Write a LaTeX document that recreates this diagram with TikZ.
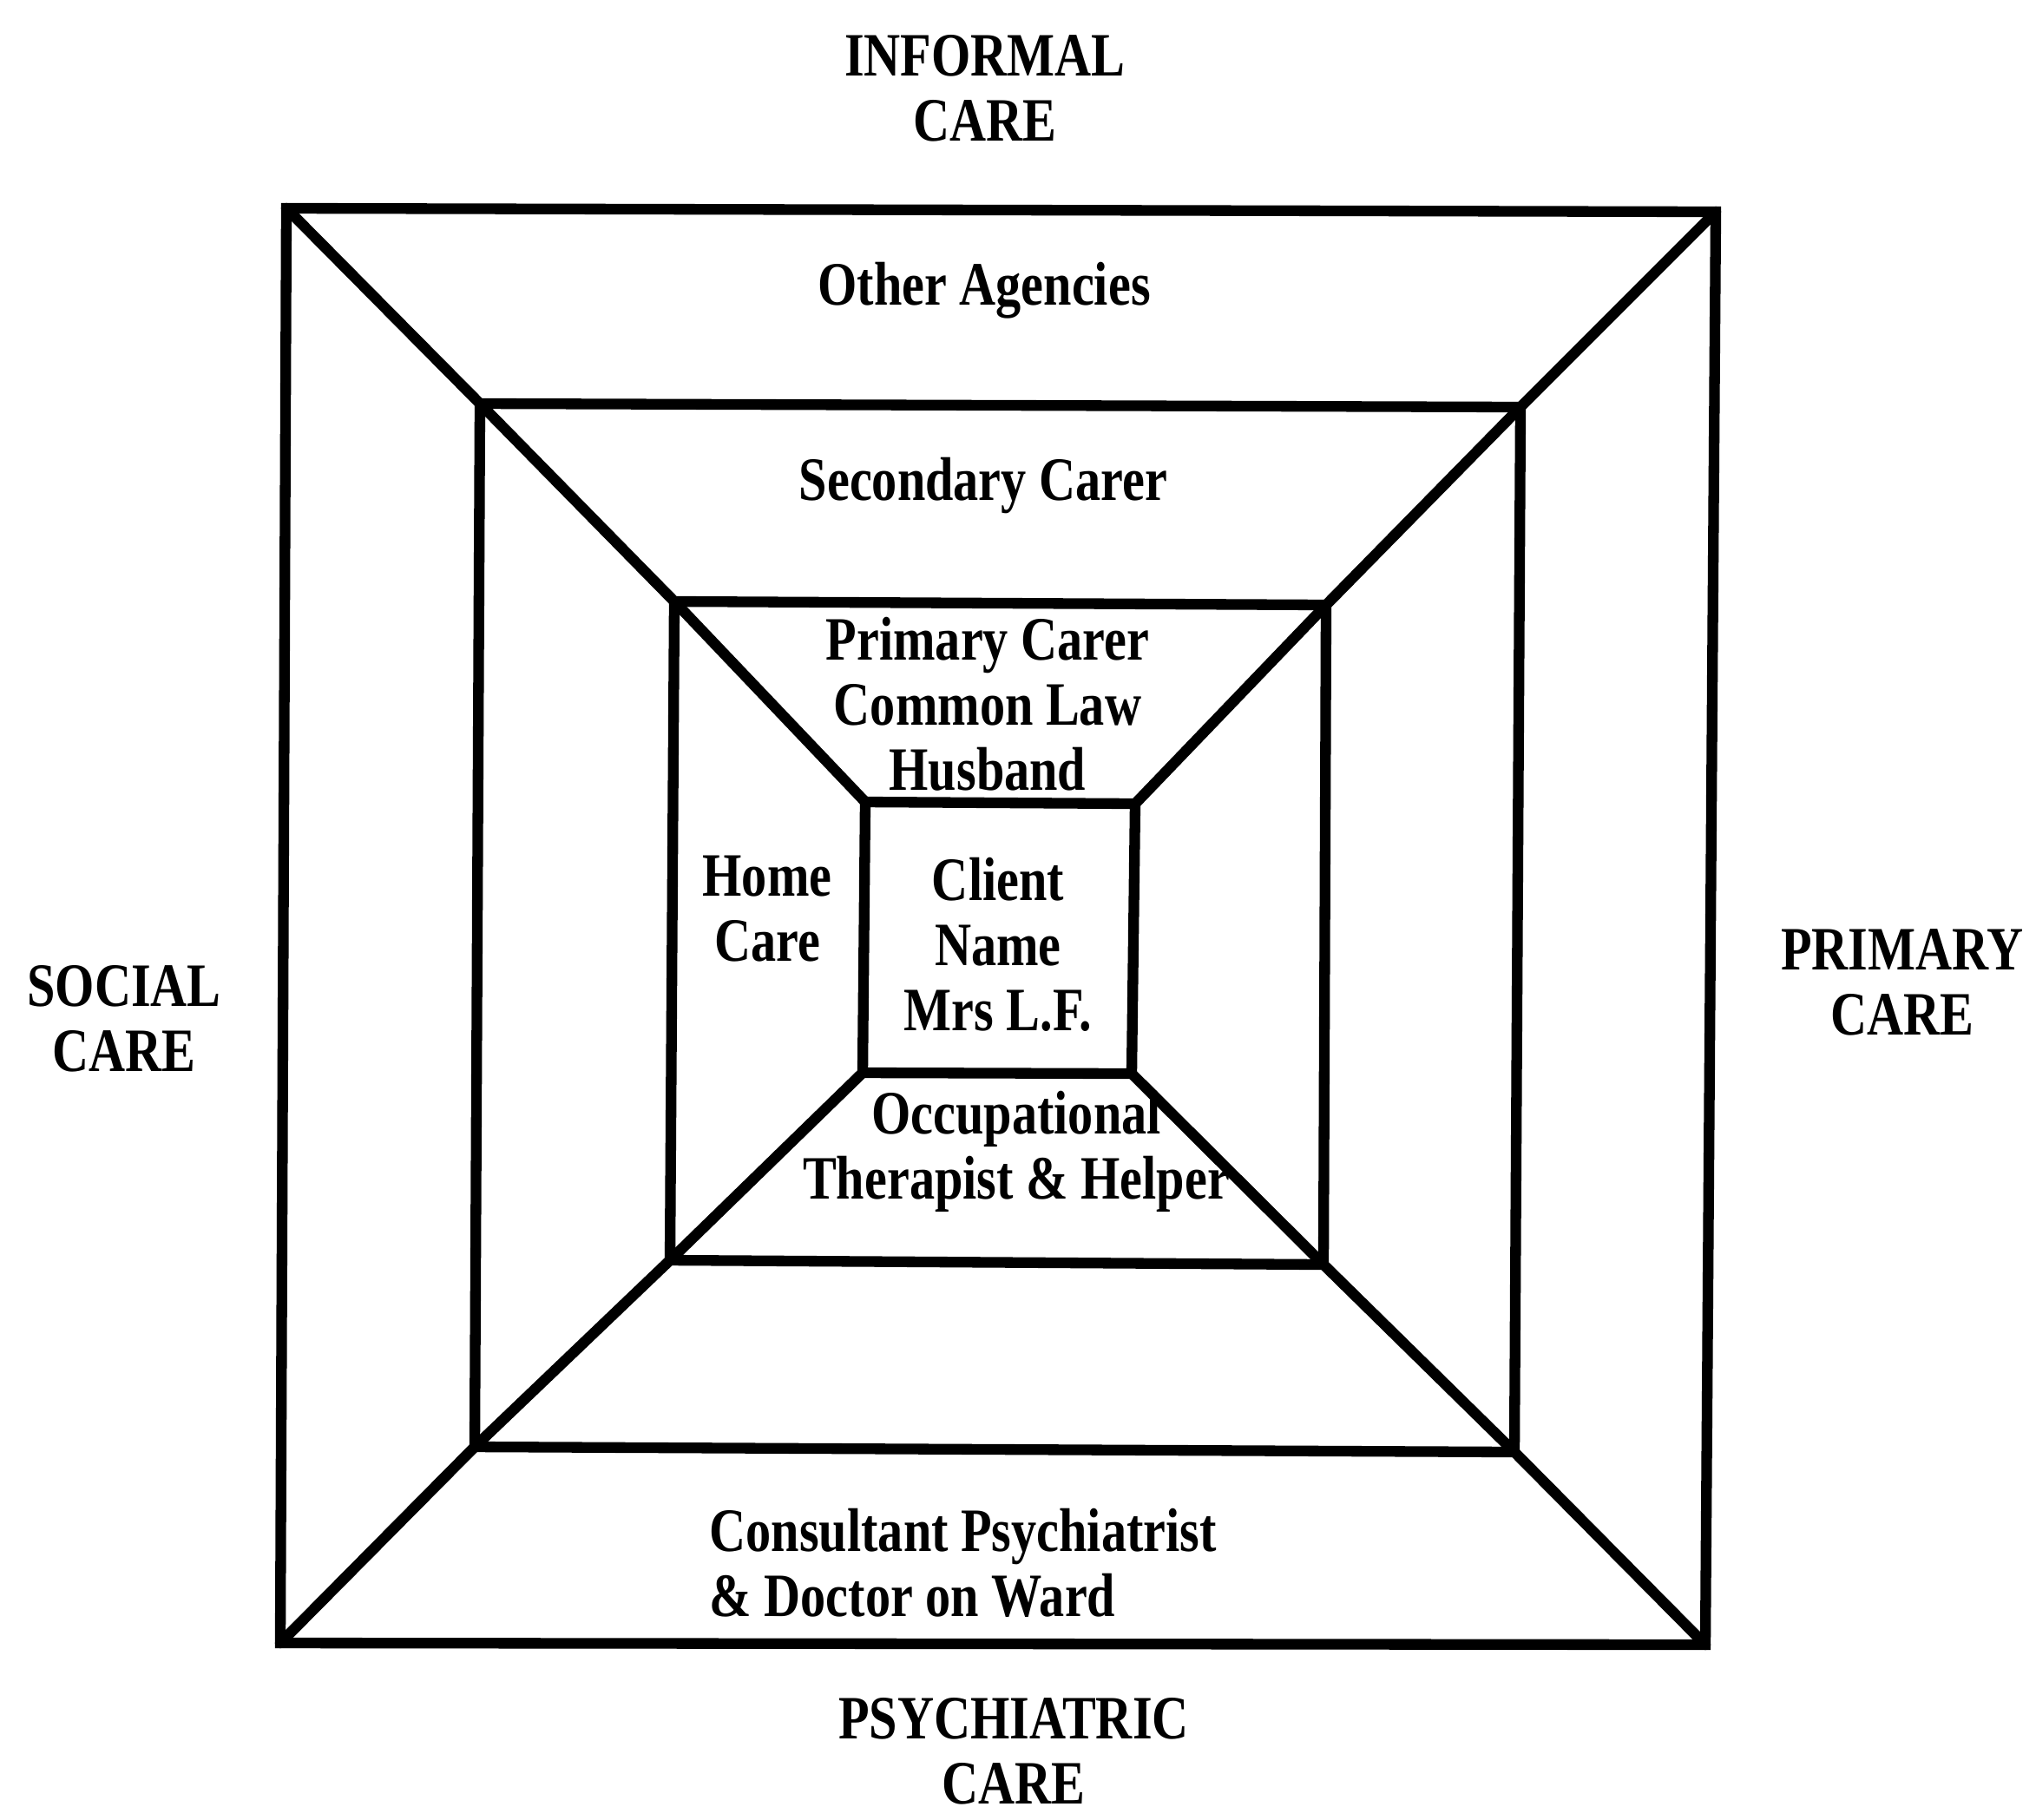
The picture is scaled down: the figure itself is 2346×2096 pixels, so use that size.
\documentclass[tikz,border=0pt]{standalone}
\usepackage{fontspec}
\setmainfont{Liberation Serif}[FakeStretch=0.82]
\begin{document}
\begin{tikzpicture}[x=0.01cm, y=-0.01cm,
  frame/.style={line width=3.5pt, line join=miter},
  spoke/.style={line width=3.5pt, line cap=round},
  label/.style={inner sep=0pt, align=center,
    font=\fontsize{20.2pt}{21.3pt}\selectfont\bfseries}]
  \useasboundingbox (0,0) rectangle (2346,2096);

  % corners of the four nested squares
  \coordinate (a1) at (330,240);  \coordinate (a2) at (1977,244);
  \coordinate (a3) at (1965,1895); \coordinate (a4) at (323,1893);
  \coordinate (b1) at (553,465);  \coordinate (b2) at (1752,469);
  \coordinate (b3) at (1745,1673); \coordinate (b4) at (547,1667);
  \coordinate (c1) at (777,693);  \coordinate (c2) at (1528,697);
  \coordinate (c3) at (1525,1457); \coordinate (c4) at (772,1452);
  \coordinate (d1) at (997,924);  \coordinate (d2) at (1308,926);
  \coordinate (d3) at (1304,1237); \coordinate (d4) at (994,1236);

  % squares
  \draw[frame] (a1) -- (a2) -- (a3) -- (a4) -- cycle;
  \draw[frame] (b1) -- (b2) -- (b3) -- (b4) -- cycle;
  \draw[frame] (c1) -- (c2) -- (c3) -- (c4) -- cycle;
  \draw[frame] (d1) -- (d2) -- (d3) -- (d4) -- cycle;

  % corner-to-corner spokes
  \draw[spoke] (a1) -- (b1) -- (c1) -- (d1);
  \draw[spoke] (a2) -- (b2) -- (c2) -- (d2);
  \draw[spoke] (a3) -- (b3) -- (c3) -- (d3);
  \draw[spoke] (a4) -- (b4) -- (c4) -- (d4);

  % sector headings outside the frame
  \node[label] (informal) at (1135,102) {INFORMAL\\CARE};
  \node[label] (social) at (143,1174) {SOCIAL\\CARE};
  \node[label] (primary) at (2192,1132) {PRIMARY\\CARE};
  \node[label] (psychiatric) at (1168,2018) {PSYCHIATRIC\\CARE};

  % people and services in each ring
  \node[label] (other) at (1134,335) {Other Agencies};
  \node[label] (secondary) at (1133,560) {Secondary Carer};
  \node[label] (primcarer) at (1138,811) {Primary Carer\\Common Law\\Husband};
  \node[label] (home) at (884,1047) {Home\\Care};
  \node[label] (client) at (1150,1088) {Client\\Name\\Mrs L.F.};
  \node[label] (ot) at (1171,1327) {Occupational\\Therapist \& Helper};
  \node[label, align=left, anchor=west] (consult) at (817,1801)
    {Consultant Psychiatrist\\\& Doctor on Ward};
\end{tikzpicture}
\end{document}
